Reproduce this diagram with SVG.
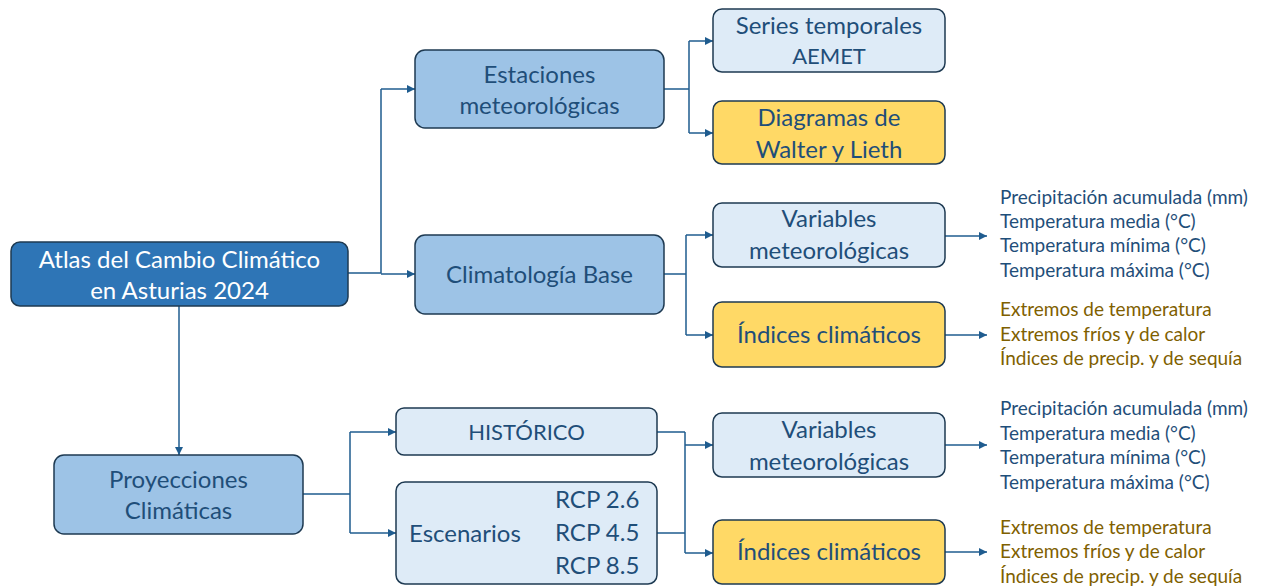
<svg xmlns="http://www.w3.org/2000/svg" width="1262" height="586" viewBox="0 0 1262 586">
<defs>
<marker id="ah" viewBox="0 0 10 10" refX="10" refY="5" markerWidth="8" markerHeight="8" markerUnits="userSpaceOnUse" orient="auto">
<path d="M0,0 L10,5 L0,10 z" fill="#1F5C8F"/>
</marker>
<style>
text{font-family:Lato,"Noto Sans",sans-serif;}
.b{stroke:#1E3A52;stroke-width:1.5;}
.main{fill:#2E75B6;}
.mid{fill:#9DC3E6;}
.lt{fill:#DEEBF7;}
.yl{fill:#FFD966;}
.t{fill:#1F4E79;font-size:24px;text-anchor:middle;}
.caps{font-size:22px;}
.ts{fill:#1F4E79;font-size:24px;text-anchor:start;}
.tw{fill:#FFFFFF;font-size:24px;text-anchor:middle;}
.l{fill:#1F4E79;font-size:19px;}
.g{fill:#7F6000;font-size:19px;}
.c{fill:none;stroke:#1F5C8F;stroke-width:1.5;}
.ca{fill:none;stroke:#1F5C8F;stroke-width:1.5;marker-end:url(#ah);}
</style>
</defs>
<rect width="1262" height="586" fill="#FFFFFF"/>
<g id="connectors">
<path class="c" d="M348,273 H381 V89"/>
<path class="ca" d="M381,89 H415"/>
<path class="ca" d="M381,274 H415"/>
<path class="ca" d="M179,306 V455"/>
<path class="c" d="M664,89 H689 M689,41 V133"/>
<path class="ca" d="M689,41 H713"/>
<path class="ca" d="M689,133 H713"/>
<path class="c" d="M664,274 H686 M686,235 V335"/>
<path class="ca" d="M686,235 H713"/>
<path class="ca" d="M686,335 H713"/>
<path class="ca" d="M945,236 H987"/>
<path class="ca" d="M945,335 H987"/>
<path class="c" d="M303,494 H350 M350,432 V533"/>
<path class="ca" d="M350,432 H396"/>
<path class="ca" d="M350,533 H396"/>
<path class="c" d="M657,432 H685 M657,533 H685 M685,432 V553"/>
<path class="ca" d="M685,445 H713"/>
<path class="ca" d="M685,553 H713"/>
<path class="ca" d="M945,445 H987"/>
<path class="ca" d="M945,552 H987"/>
</g>
<g id="atlas">
<rect class="b main" x="11" y="242" width="337" height="64" rx="9"/>
<text class="tw" x="179.5" y="268">Atlas del Cambio Climático</text>
<text class="tw" x="179.5" y="299">en Asturias 2024</text>
</g>
<g id="estaciones">
<rect class="b mid" x="415" y="50" width="249" height="78" rx="10"/>
<text class="t" x="539.5" y="83">Estaciones</text>
<text class="t" x="539.5" y="114">meteorológicas</text>
</g>
<g id="climatologia">
<rect class="b mid" x="415" y="235" width="249" height="79" rx="10"/>
<text class="t" x="539.5" y="283">Climatología Base</text>
</g>
<g id="series">
<rect class="b lt" x="713" y="9" width="232" height="63" rx="9"/>
<text class="t" x="829" y="34">Series temporales</text>
<text class="t caps" x="829" y="64">AEMET</text>
</g>
<g id="diagramas">
<rect class="b yl" x="713" y="101" width="232" height="63" rx="9"/>
<text class="t" x="829" y="126">Diagramas de</text>
<text class="t" x="829" y="158">Walter y Lieth</text>
</g>
<g id="variables1">
<rect class="b lt" x="713" y="203" width="232" height="64" rx="9"/>
<text class="t" x="829" y="227">Variables</text>
<text class="t" x="829" y="259">meteorológicas</text>
</g>
<g id="indices1">
<rect class="b yl" x="713" y="302" width="232" height="65" rx="9"/>
<text class="t" x="829" y="343">Índices climáticos</text>
</g>
<g id="lista1">
<text class="l" x="1000" y="204">Precipitación acumulada (mm)</text>
<text class="l" x="1000" y="228">Temperatura media (°C)</text>
<text class="l" x="1000" y="252">Temperatura mínima (°C)</text>
<text class="l" x="1000" y="277">Temperatura máxima (°C)</text>
</g>
<g id="lista2">
<text class="g" x="1000" y="316">Extremos de temperatura</text>
<text class="g" x="1000" y="341">Extremos fríos y de calor</text>
<text class="g" x="1000" y="365">Índices de precip. y de sequía</text>
</g>
<g id="proyecciones">
<rect class="b mid" x="54" y="455" width="249" height="79" rx="10"/>
<text class="t" x="178.5" y="488">Proyecciones</text>
<text class="t" x="178.5" y="519">Climáticas</text>
</g>
<g id="historico">
<rect class="b lt" x="396" y="408" width="261" height="47" rx="8"/>
<text class="t caps" x="526.5" y="440">HISTÓRICO</text>
</g>
<g id="escenarios">
<rect class="b lt" x="396" y="482" width="261" height="102" rx="9"/>
<text class="ts" x="409" y="542">Escenarios</text>
<text class="ts" x="555" y="508">RCP 2.6</text>
<text class="ts" x="555" y="541">RCP 4.5</text>
<text class="ts" x="555" y="574">RCP 8.5</text>
</g>
<g id="variables2">
<rect class="b lt" x="713" y="413" width="232" height="64" rx="9"/>
<text class="t" x="829" y="438">Variables</text>
<text class="t" x="829" y="470">meteorológicas</text>
</g>
<g id="indices2">
<rect class="b yl" x="713" y="520" width="232" height="64" rx="9"/>
<text class="t" x="829" y="560">Índices climáticos</text>
</g>
<g id="lista3">
<text class="l" x="1000" y="415">Precipitación acumulada (mm)</text>
<text class="l" x="1000" y="440">Temperatura media (°C)</text>
<text class="l" x="1000" y="464">Temperatura mínima (°C)</text>
<text class="l" x="1000" y="489">Temperatura máxima (°C)</text>
</g>
<g id="lista4">
<text class="g" x="1000" y="534">Extremos de temperatura</text>
<text class="g" x="1000" y="558">Extremos fríos y de calor</text>
<text class="g" x="1000" y="583">Índices de precip. y de sequía</text>
</g>
</svg>
